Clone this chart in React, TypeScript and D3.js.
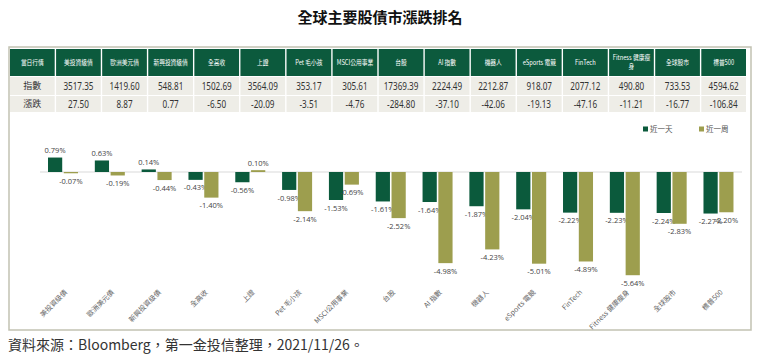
import React from 'react';
import * as d3 from 'd3';

const title = '全球主要股債市漲跌排名';
const source = '資料來源：Bloomberg，第一金投信整理，2021/11/26。';
const cornerLabel = '當日行情';
const rowLabels = ['指數', '漲跌'];
const categories = [
  '美投資級債', '歐洲美元債', '新興投資級債', '全高收', '上證', 'Pet 毛小孩', 'MSCI公用事業',
  '台股', 'AI 指數', '機器人', 'eSports 電競', 'FinTech', 'Fitness 健康瘦身', '全球股市', '標普500',
];
const indexValues = [3517.35, 1419.6, 548.81, 1502.69, 3564.09, 353.17, 305.61, 17369.39, 2224.49, 2212.87, 918.07, 2077.12, 490.8, 733.53, 4594.62];
const changeValues = [27.5, 8.87, 0.77, -6.5, -20.09, -3.51, -4.76, -284.8, -37.1, -42.06, -19.13, -47.16, -11.21, -16.77, -106.84];
const seriesNames = ['近一天', '近一周'];
const dayPct = [0.79, 0.63, 0.14, -0.43, -0.56, -0.98, -1.53, -1.61, -1.64, -1.87, -2.04, -2.22, -2.23, -2.24, -2.27];
const weekPct = [-0.07, -0.19, -0.44, -1.4, 0.1, -2.14, -0.69, -2.52, -4.98, -4.23, -5.01, -4.89, -5.64, -2.83, -2.2];

const colors = ['#0b5a3c', '#9d9e4e'];
const CJK = '"Noto Sans CJK TC", "Noto Sans", sans-serif';
const NUM = '"Noto Sans", sans-serif';

let ctx: CanvasRenderingContext2D | null = null;
function measure(text: string, font: string) {
  if (!ctx) ctx = document.createElement('canvas').getContext('2d');
  if (!ctx) return text.length * 7;
  ctx.font = font;
  return ctx.measureText(text).width;
}
function wrap(text: string, maxW: number, font: string) {
  if (measure(text, font) <= maxW) return [text];
  const lines: string[] = [];
  let cur = '';
  for (const ch of text) {
    if (measure(cur + ch, font) > maxW && cur) {
      lines.push(cur);
      cur = ch;
    } else cur += ch;
  }
  if (cur) lines.push(cur);
  return lines;
}

export default function App() {
  const W = 760, H = 357;
  // table
  const cols = [cornerLabel, ...categories];
  const colX = d3.scaleBand<string>().domain(cols).range([10, 746]).paddingInner(0.03);
  const rowY = d3.scaleOrdinal<string, [number, number]>().domain(['h', ...rowLabels]).range([[49, 76], [77, 95], [96, 112]]);
  const headSize = 7;
  const headScale = 0.82;
  const headFont = `${headSize}px ${CJK}`;

  // chart
  const x0 = d3.scaleBand<string>().domain(categories).range([39.6, 741.9]);
  const x1 = d3.scaleBand<string>().domain(seriesNames).range([8.4, 38.4]).paddingInner(0.1);
  const y = d3.scaleLinear().domain([-6, 1]).range([172 + 6 * 18.3, 172 - 18.3]);
  const series = [dayPct, weekPct];
  const fmt = (v: number) => `${v.toFixed(2)}%`;

  return (
    <svg width={W} height={H} style={{ position: 'absolute', left: 0, top: 0, background: '#fff' }}>
      <text x={380} y={23} textAnchor="middle" fontFamily={CJK} fontWeight={700} fontSize={15} fill="#111">{title}</text>
      <rect x={9} y={47} width={742} height={283} fill="#fff" stroke="#c2c2b2" strokeWidth={1.5} />
      {cols.map((c, i) => {
        const x = colX(c)!;
        const bw = colX.bandwidth();
        const [hy0, hy1] = rowY('h');
        const lines = wrap(c, (bw - 4) / headScale, headFont);
        const lh = 9;
        const startY = (hy0 + hy1) / 2 - ((lines.length - 1) * lh) / 2;
        const cx = x + bw / 2;
        return (
          <g key={c}>
            <rect x={x} y={hy0} width={bw} height={hy1 - hy0} fill="#0c5a3d" />
            {lines.map((l, k) => (
              <text key={k} transform={`translate(${cx},${startY + k * lh}) scale(${headScale},1)`} dy="0.35em"
                textAnchor="middle" fontFamily={CJK} fontSize={headSize} fill="#fff">{l}</text>
            ))}
            {rowLabels.map((r, ri) => {
              const [ry0, ry1] = rowY(r);
              const val = i === 0 ? r : (ri === 0 ? indexValues : changeValues)[i - 1].toFixed(2);
              const cy = (ry0 + ry1) / 2;
              return (
                <g key={r}>
                  <rect x={x} y={ry0} width={bw} height={ry1 - ry0} fill="#eeede7" />
                  {i === 0 ? (
                    <text x={cx} y={cy} dy="0.35em" textAnchor="middle" fontFamily={CJK} fontSize={9} fill="#333">{val}</text>
                  ) : (
                    <text transform={`translate(${cx},${cy}) scale(0.74,1)`} dy="0.35em" textAnchor="middle"
                      fontFamily={NUM} fontSize={11} fill="#333">{val}</text>
                  )}
                </g>
              );
            })}
          </g>
        );
      })}

      <line x1={40} x2={742} y1={y(0)} y2={y(0)} stroke="#d9d9d9" strokeWidth={1} />
      {categories.map((c, i) => (
        <g key={c} transform={`translate(${x0(c)},0)`}>
          {series.map((s, si) => {
            const v = s[i];
            const bx = x1(seriesNames[si])!;
            const bw = x1.bandwidth();
            const yTop = Math.min(y(v), y(0));
            const h = Math.abs(y(v) - y(0));
            const ly = v >= 0 ? y(v) - 7 : y(v) + 8;
            return (
              <g key={si}>
                <rect x={bx} y={yTop} width={bw} height={Math.max(h, 1)} fill={colors[si]} />
                <text x={bx + bw / 2} y={ly} dy="0.35em" textAnchor="middle" fontFamily='"Open Sans", sans-serif' fontSize={7.5} fill="#444">{fmt(v)}</text>
              </g>
            );
          })}
          <text transform={`translate(${x0.bandwidth() / 2 + 3},291) rotate(-45)`} textAnchor="end" dy="0.35em"
            fontFamily={CJK} fontSize={7} fill="#666">{c}</text>
        </g>
      ))}

      {seriesNames.map((n, i) => (
        <g key={n} transform={`translate(${643 + i * 56},129)`}>
          <rect x={0} y={-2.5} width={5} height={5} fill={colors[i]} />
          <text x={7} y={0} dy="0.35em" fontFamily={CJK} fontSize={7.5} fill="#555">{n}</text>
        </g>
      ))}

      <text x={8} y={345} dy="0.35em" fontFamily={CJK} fontSize={14} fill="#333">{source}</text>
    </svg>
  );
}
